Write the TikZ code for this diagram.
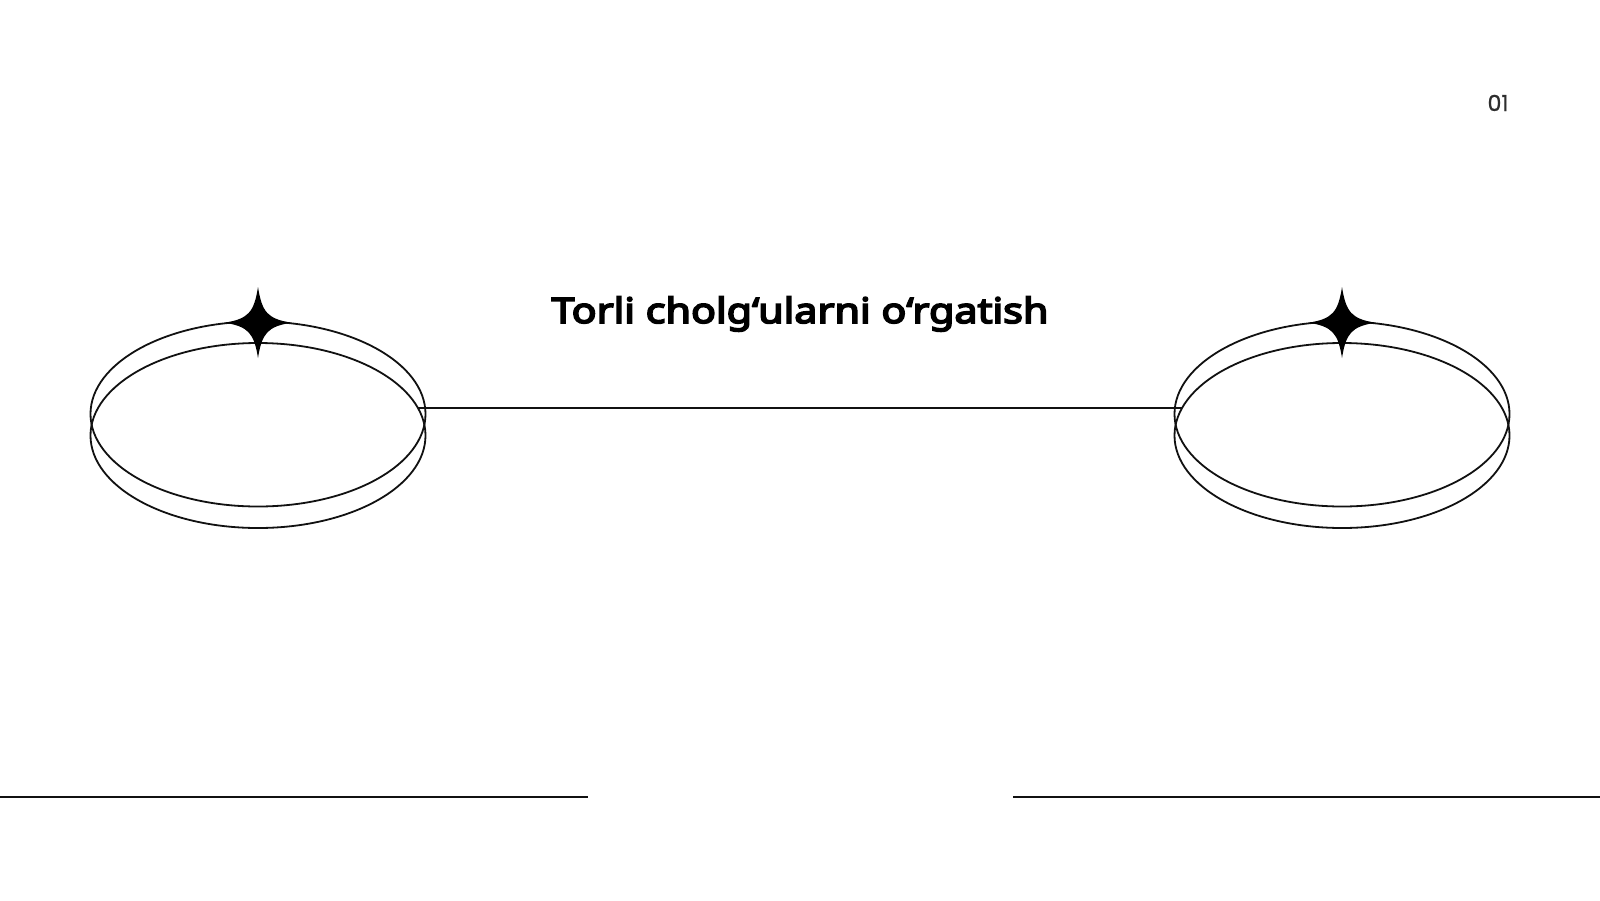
\documentclass[tikz,border=0pt]{standalone}
\usepackage{fontspec}
\usetikzlibrary{shapes.geometric,calc}
\newfontfamily\titlefont{Noto Sans}[FakeBold=5,FakeStretch=1.18]
\newfontfamily\numfont{Poppins}[FakeBold=1]
\definecolor{ink}{HTML}{111111}
\definecolor{numgray}{HTML}{2E2E2E}
\tikzset{
  ring/.style={ellipse, draw=ink, line width=1.8pt, inner sep=0pt, outer sep=0pt, minimum width=335pt, minimum height=185pt},
  rule/.style={draw=ink, line width=1.8pt},
  sparkle/.style={fill=black, draw=none},
}
\begin{document}
\begin{tikzpicture}[x=1pt,y=-1pt]
\useasboundingbox (0,0) rectangle (1600,900);
\fill[white] (0,0) rectangle (1600,900);
% left rings
\node[ring] (lt) at (258,414) {};
\node[ring] (lb) at (258,435.5) {};
% right rings
\node[ring] (rt) at (1342,414) {};
\node[ring] (rb) at (1342,435.5) {};
% stars
\foreach \cx in {258,1342}{
  \fill[sparkle] (\cx,287) .. controls (\cx+4,312.7) and (\cx+10,318.7) .. (\cx+33,322.7)
     .. controls (\cx+10,326.7) and (\cx+4,332.7) .. (\cx,358)
     .. controls (\cx-4,332.7) and (\cx-10,326.7) .. (\cx-33,322.7)
     .. controls (\cx-10,318.7) and (\cx-4,312.7) .. cycle;
}
% connector
\coordinate (la) at ($(lb.center)+(160,-27.5)$);
\coordinate (ra) at ($(rb.center)+(-160,-27.5)$);
\draw[rule] (la) -- (ra);
% title
\node[anchor=base, inner sep=0pt, font=\titlefont\bfseries\fontsize{35}{40}\selectfont] (title) at (800,323) {Torli cholg‘ularni o‘rgatish};
% page number
\node[anchor=base, inner sep=0pt, text=numgray, font=\numfont\fontsize{22}{26}\selectfont] (num) at (1498,111) {01};
% bottom rules
\coordinate (bl1) at (0,797);
\coordinate (bl2) at (588,797);
\coordinate (br1) at (1013,797);
\coordinate (br2) at (1600,797);
\draw[rule] (bl1) -- (bl2);
\draw[rule] (br1) -- (br2);
\end{tikzpicture}
\end{document}
